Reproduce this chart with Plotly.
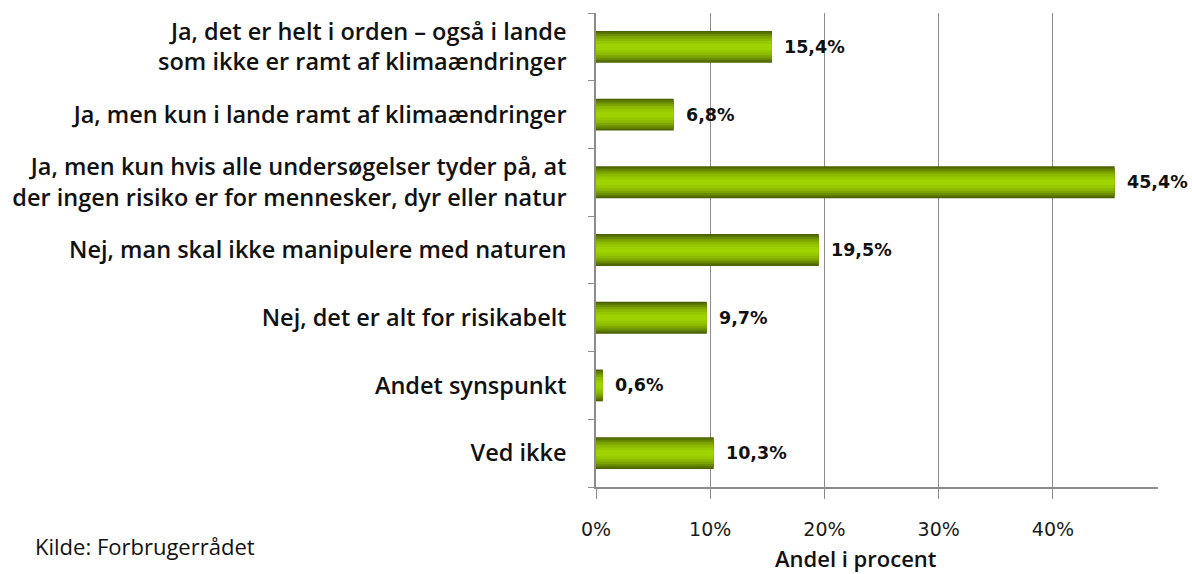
import plotly.graph_objects as go

categories = [
    "Ja, det er helt i orden – også i lande<br>som ikke er ramt af klimaændringer",
    "Ja, men kun i lande ramt af klimaændringer",
    "Ja, men kun hvis alle undersøgelser tyder på, at<br>der ingen risiko er for mennesker, dyr eller natur",
    "Nej, man skal ikke manipulere med naturen",
    "Nej, det er alt for risikabelt",
    "Andet synspunkt",
    "Ved ikke",
]
values = [15.4, 6.8, 45.4, 19.5, 9.7, 0.6, 10.3]
x_tickvals = [0, 10, 20, 30, 40]
x_ticktext = ["0%", "10%", "20%", "30%", "40%"]
value_labels = [f"{v:.1f}".replace(".", ",") + "%" for v in values]

FIG_W, FIG_H = 1192, 574
L, R, T, B = 596, 34, 13, 87
PW, PH = FIG_W - L - R, FIG_H - T - B


def px_x(px):
    return (px - L) / PW


def px_y(py):
    return (FIG_H - B - py) / PH


fig = go.Figure()

# layered bars to imitate the cylindrical gradient
layers = [
    (0.47, "#4a6000"),
    (0.43, "#5a7600"),
    (0.38, "#6b8d00"),
    (0.32, "#7ca500"),
    (0.25, "#8bba00"),
    (0.17, "#96c800"),
    (0.09, "#9ed200"),
]
for w, c in layers:
    fig.add_trace(go.Bar(
        x=values, y=categories, orientation="h",
        width=w, marker=dict(color=c, line=dict(width=0)),
        hoverinfo="skip", showlegend=False,
    ))

for v, cat, lab in zip(values, categories, value_labels):
    fig.add_annotation(
        x=v, y=cat, xref="x", yref="y", text=lab, showarrow=False,
        xanchor="left", yanchor="middle", xshift=10,
        font=dict(family="DejaVu Sans", size=17.5, color="#111111", weight="bold"),
    )

fig.add_annotation(
    x=px_x(856), y=px_y(558), xref="paper", yref="paper",
    text="Andel i procent", showarrow=False,
    xanchor="center", yanchor="middle",
    font=dict(family="Open Sans", size=22, color="#111111", weight=600),
)
fig.add_annotation(
    x=px_x(33), y=px_y(546), xref="paper", yref="paper",
    text="Kilde: Forbrugerrådet", showarrow=False,
    xanchor="left", yanchor="middle",
    font=dict(family="Open Sans", size=22, color="#111111"),
)

fig.update_layout(
    width=FIG_W, height=FIG_H,
    margin=dict(l=L, r=R, t=T, b=B, pad=0, autoexpand=False),
    barmode="overlay",
    plot_bgcolor="white", paper_bgcolor="white",
    xaxis=dict(
        range=[0, 49.2], tickvals=x_tickvals, ticktext=x_ticktext,
        showgrid=True, gridcolor="#8c8c8c", gridwidth=1,
        showline=True, linecolor="#8c8c8c", linewidth=1.5,
        ticks="outside", ticklen=10, tickcolor="#8c8c8c",
        zeroline=False, ticklabelstandoff=14, automargin=False,
        tickfont=dict(family="DejaVu Sans", size=19, color="#1a1a1a"),
    ),
    yaxis=dict(
        categoryorder="array", categoryarray=categories[::-1],
        showline=True, linecolor="#8c8c8c", linewidth=1.5,
        ticks="outside", ticklen=6, tickcolor="#8c8c8c", tickson="boundaries",
        showgrid=False, ticklabelstandoff=23, automargin=False,
        tickfont=dict(family="Open Sans", size=23.5, color="#111111", weight=600),
    ),
)

fig.write_html(
    "out.html",
    config={"displayModeBar": False},
    post_script="document.body.style.margin='0';",
)
